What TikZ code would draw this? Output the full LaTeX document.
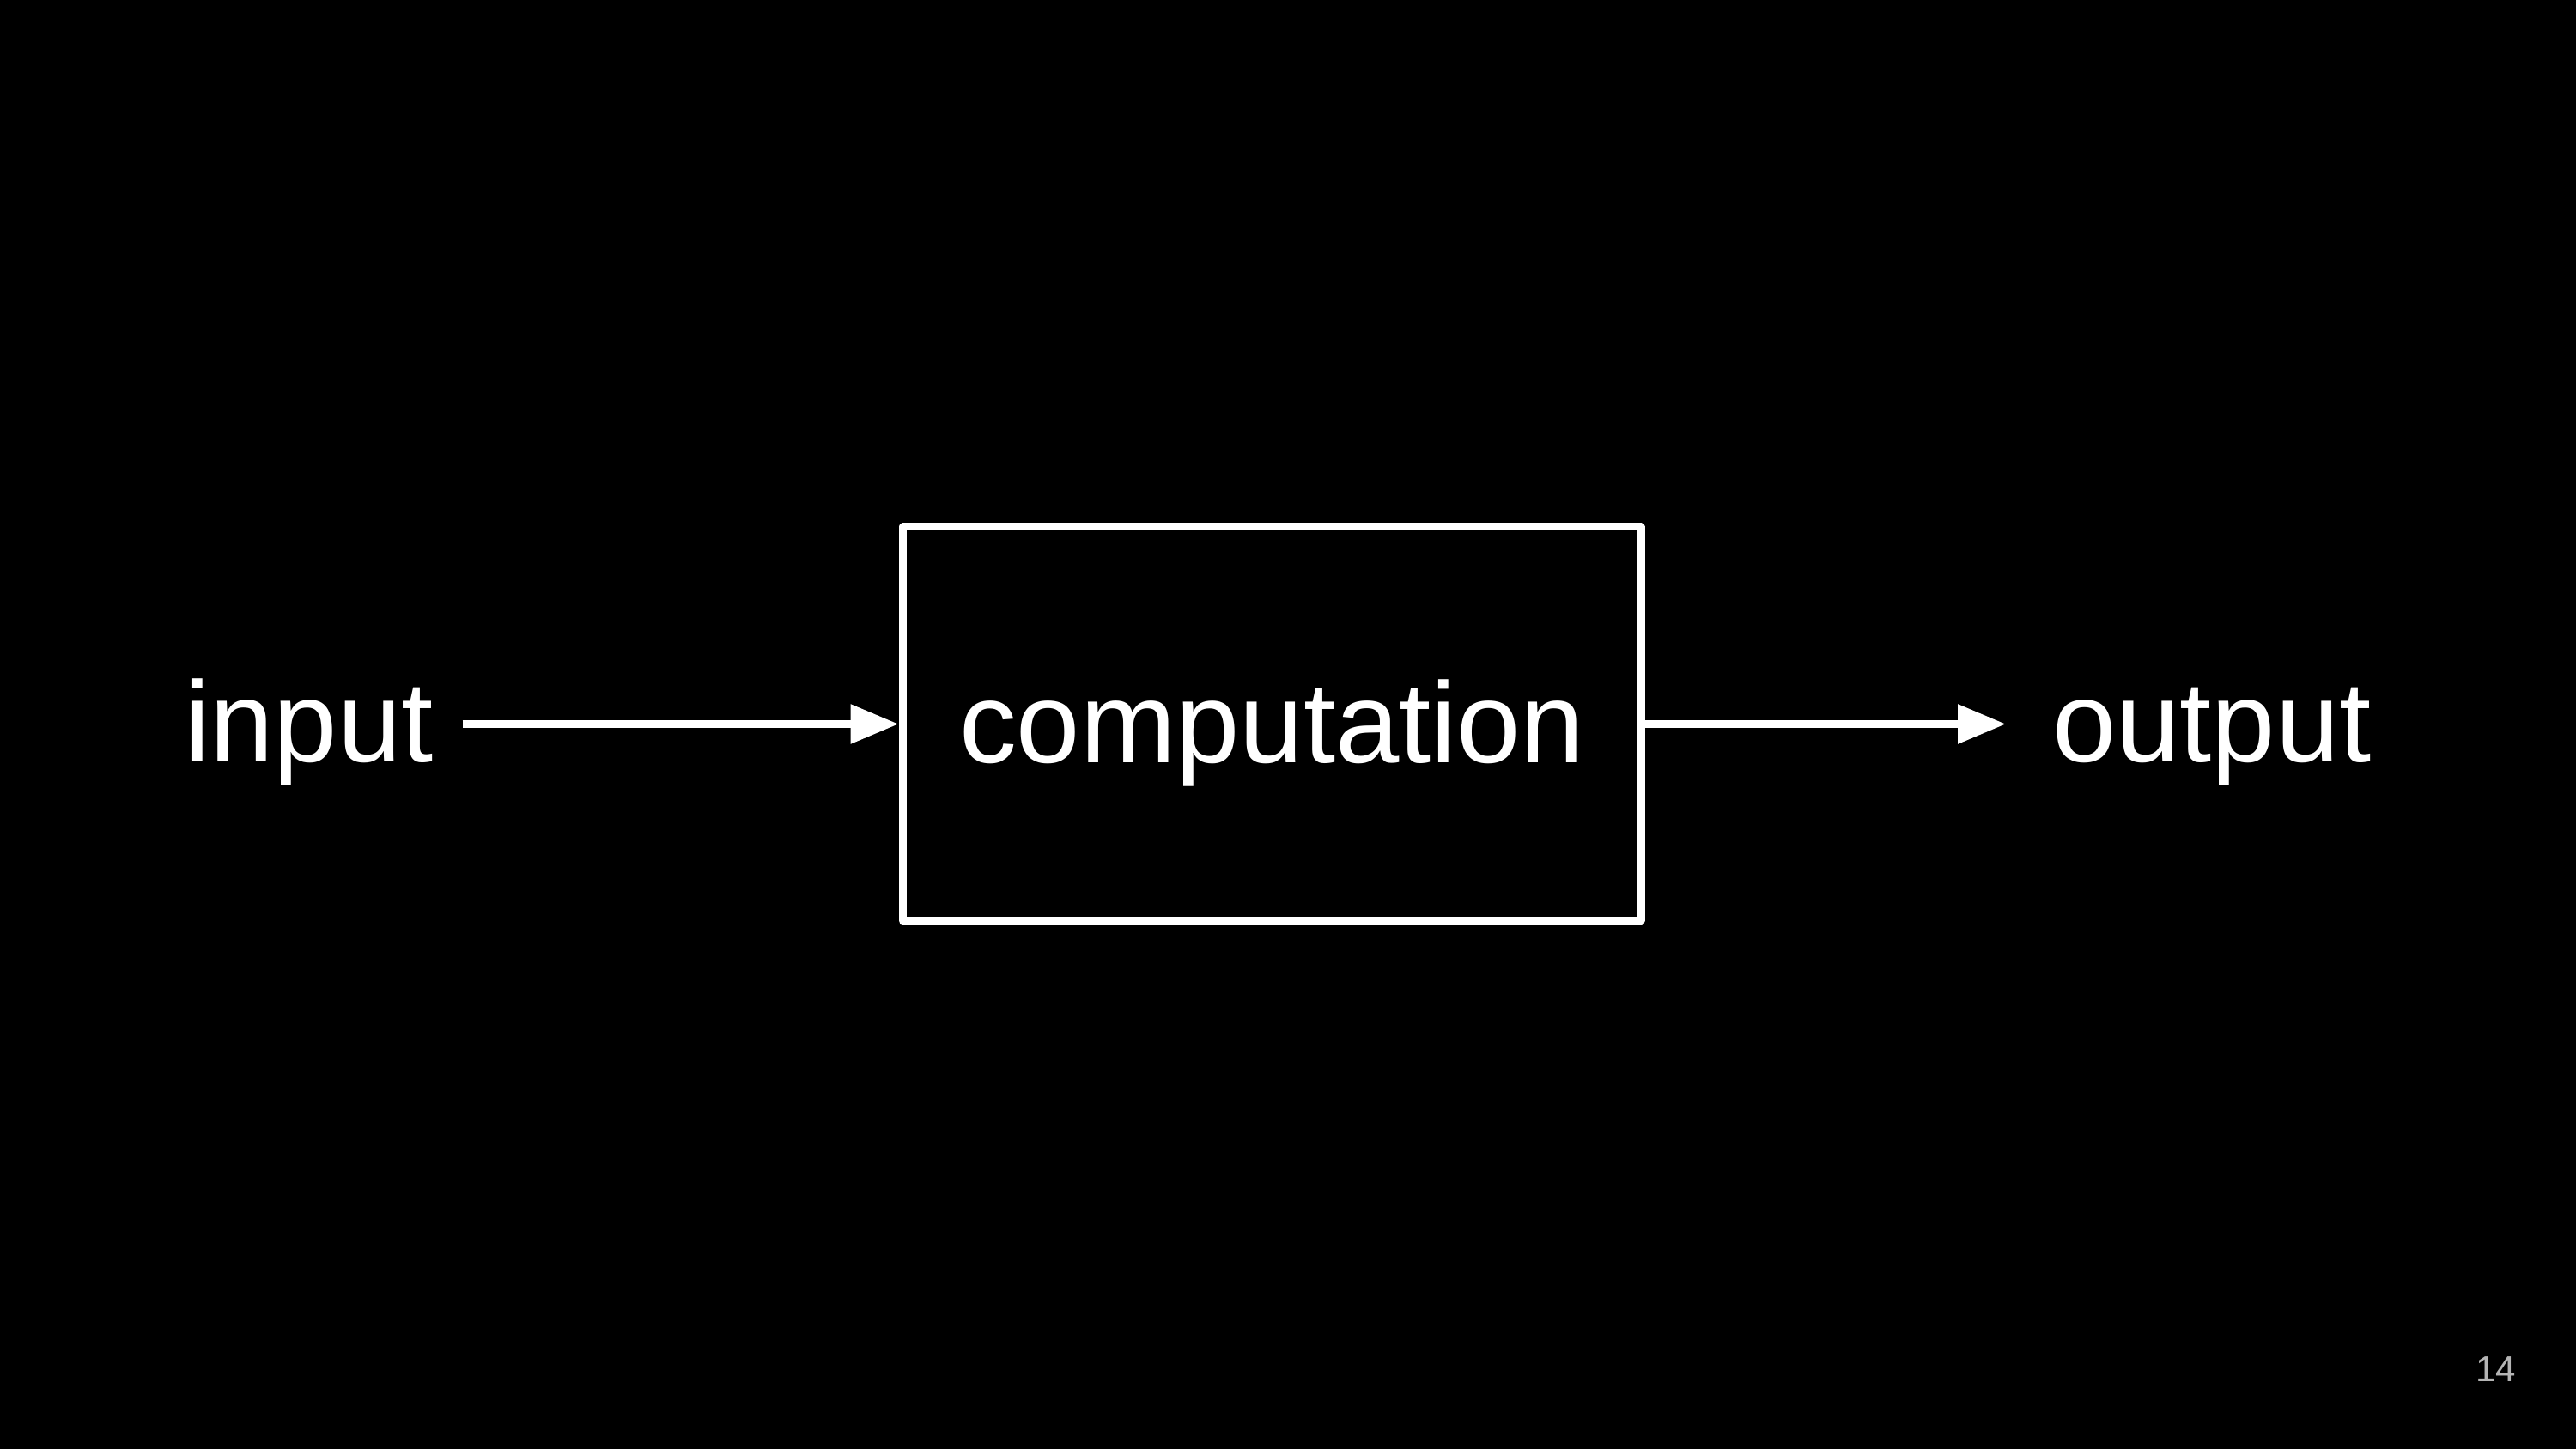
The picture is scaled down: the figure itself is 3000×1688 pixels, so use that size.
\documentclass[tikz,border=0pt]{standalone}
\usepackage{fontspec}
\setmainfont{Liberation Sans}
\usetikzlibrary{arrows.meta}
\definecolor{pagegray}{HTML}{B4B4B4}
\begin{document}
\begin{tikzpicture}[x=0.25pt,y=-0.25pt,
  lbl/.style={text=white,font=\fontsize{33.4pt}{40pt}\selectfont,inner sep=0pt,outer sep=0pt},
  boxstyle/.style={draw=white,line width=2.25pt,line join=round,text=white,
    font=\fontsize{33.4pt}{40pt}\selectfont,inner sep=0pt,
    minimum width=215pt,minimum height=114.75pt,text height=23.8pt,text depth=1.3pt},
  arr/.style={draw=white,line width=2.25pt,-{Triangle[length=14pt,width=11pt]}}]
\fill[black] (0,0) rectangle (3000,1688);
\useasboundingbox (0,0) rectangle (3000,1688);
\node[boxstyle] (box) at (1481,843.5) {computation};
\node[lbl,anchor=base west] (input) at (215,888) {input};
\node[lbl,anchor=base west] (output) at (2390,888) {output};
\node[text=pagegray,font=\fontsize{10.5pt}{12pt}\selectfont,inner sep=0pt,anchor=base east] (page) at (2931,1609) {14};
\draw[arr] ([xshift=8.5pt]input.east |- box.west) -- (box.west);
\draw[arr] (box.east) -- ([xshift=-13.5pt]output.west |- box.east);
\end{tikzpicture}
\end{document}
